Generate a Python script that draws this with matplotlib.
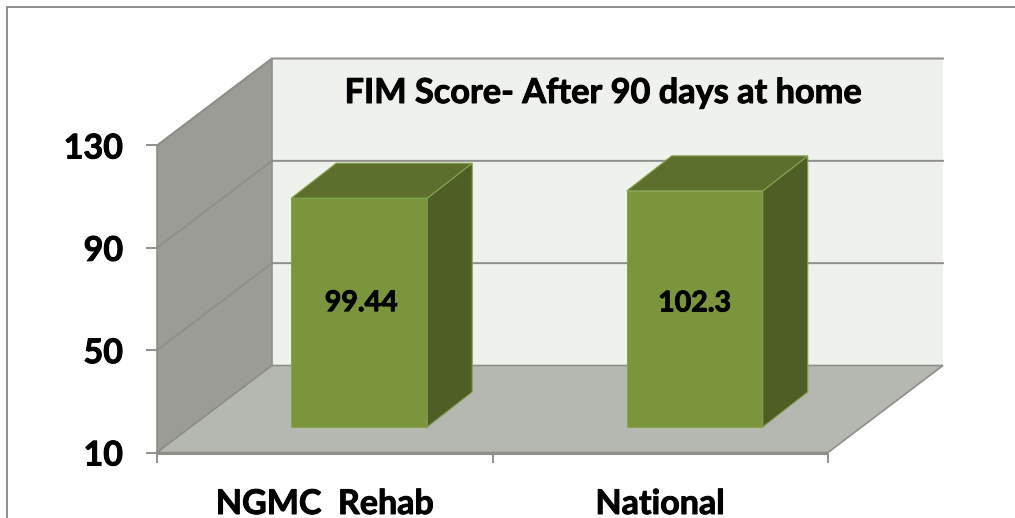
import matplotlib
matplotlib.use("Agg")
import matplotlib.pyplot as plt
import matplotlib.patheffects as pe
from matplotlib.patches import Polygon, Rectangle
from matplotlib.transforms import ScaledTranslation

categories = ["NGMC  Rehab", "National"]
values = [99.44, 102.3]
value_labels = ["99.44", "102.3"]
y_ticks = [10, 50, 90, 130]
chart_title = "FIM Score- After 90 days at home"

W, H, DPI = 1015, 518, 100
plt.rcParams["font.family"] = ["Lato", "DejaVu Sans"]
plt.rcParams["font.weight"] = "bold"
BOLD = [pe.withStroke(linewidth=0.7, foreground="black")]

fig = plt.figure(figsize=(W / DPI, H / DPI), dpi=DPI, facecolor="white")

# chart frame: only the top and left edges fall inside the picture
fig.add_artist(Rectangle((7 / W, -0.1), 1.1, 1.1 - 7.5 / H, transform=fig.transFigure,
                         fill=False, ec="#868686", lw=1.3))

L, R, T, B = 157, 828, 145.5, 452.5
ax = fig.add_axes([L / W, 1 - B / H, (R - L) / W, (B - T) / H])
ax.set_xlim(-0.5, 1.5)
ax.set_ylim(10, 130)
ax.patch.set_alpha(0)
for s in ax.spines.values():
    s.set_visible(False)

px = 72 / DPI  # points per output pixel


def shifted(dx, dy):
    """Data transform displaced by a depth offset given in output pixels."""
    return ax.transData + ScaledTranslation(dx / DPI, -dy / DPI, fig.dpi_scale_trans)


def poly(points, depth_pts, fc, ec=None, lw=1.0, z=1):
    """Quad whose vertices are (x, y) with a depth shift in px."""
    disp = [shifted(d[0], d[1]).transform((x, y)) for (x, y), d in zip(points, depth_pts)]
    ax.add_patch(Polygon(disp, closed=True, transform=None, fc=fc, ec=ec or "none", lw=lw,
                         zorder=z, clip_on=False, joinstyle="miter"))


DEPTH = (115, -87)
FRONT = (0, 0)
x0, x1 = ax.get_xlim()
y0, y1 = ax.get_ylim()
GRID = "#8e8e8a"

# back wall, side wall, floor
poly([(x0, y0), (x1, y0), (x1, y1), (x0, y1)], [DEPTH] * 4, "#eff2ec", z=1)
poly([(x0, y0), (x0, y0), (x0, y1), (x0, y1)], [FRONT, DEPTH, DEPTH, FRONT], "#9a9c95", GRID, 1.2, z=1.2)
poly([(x0, y0), (x0, y0), (x1, y0), (x1, y0)], [FRONT, DEPTH, DEPTH, FRONT], "#b5b8b1", GRID, 1.2, z=1.3)

# gridlines on the walls
for v in y_ticks[1:]:
    a = shifted(0, 0).transform((x0, v))
    b = shifted(*DEPTH).transform((x0, v))
    c = shifted(*DEPTH).transform((x1, v))
    ax.plot([a[0], b[0], c[0]], [a[1], b[1], c[1]], transform=None, color=GRID, lw=1.4,
            zorder=1.5, clip_on=False, solid_joinstyle="miter")

# bars
BAR_W = 136 / 335.5
BAR_OFF = (34.5, -25.5)
BAR_D = (79.5, -60.5)
EDGE = "#86a34e"
LABEL_NUDGE = [(36.5, -35), (34.5, -31)]
for i, (v, lab) in enumerate(zip(values, value_labels)):
    l, r = i - BAR_W / 2, i + BAR_W / 2
    poly([(l, y0), (r, y0), (r, v), (l, v)], [BAR_OFF] * 4, "#7a953c", EDGE, 0.8, z=3)
    poly([(r, y0), (r, y0), (r, v), (r, v)], [BAR_OFF, BAR_D, BAR_D, BAR_OFF], "#4e5e25", EDGE, 0.8, z=3)
    poly([(l, v), (r, v), (r, v), (l, v)], [BAR_OFF, BAR_OFF, BAR_D, BAR_D], "#5c6f2d", EDGE, 0.8, z=3)
    ax.text(i, (y0 + v) / 2, lab, transform=shifted(*LABEL_NUDGE[i]), ha="center", va="center",
            fontsize=20.5, fontweight="bold", color="black", zorder=4, path_effects=BOLD)

# axes ticks and labels
ax.plot([x0, x1], [y0, y0], color=GRID, lw=2.2, zorder=2, clip_on=False, solid_capstyle="butt")
ax.set_yticks(y_ticks)
ax.set_yticklabels([str(t) for t in y_ticks], fontsize=24.5, fontweight="bold", color="black")
ax.tick_params(axis="y", length=11 * px, width=1.4, color=GRID, pad=23 * px)
ax.set_xticks([-0.5, 0.5, 1.5])
ax.set_xticklabels([])
ax.tick_params(axis="x", length=10 * px, width=1.4, color=GRID)
ax.set_xticks([0, 1], labels=categories, minor=True)
ax.tick_params(axis="x", which="minor", length=0, labelsize=24.5, pad=35.5 * px, labelcolor="black")
for t in ax.get_yticklabels() + ax.get_xticklabels(minor=True):
    t.set_path_effects(BOLD)

fig.text(603 / W, 1 - 93 / H, chart_title, ha="center", va="center", fontsize=24.7,
         fontweight="bold", color="black", zorder=5, path_effects=BOLD)

fig.savefig("out.png", dpi=DPI, facecolor="white")
